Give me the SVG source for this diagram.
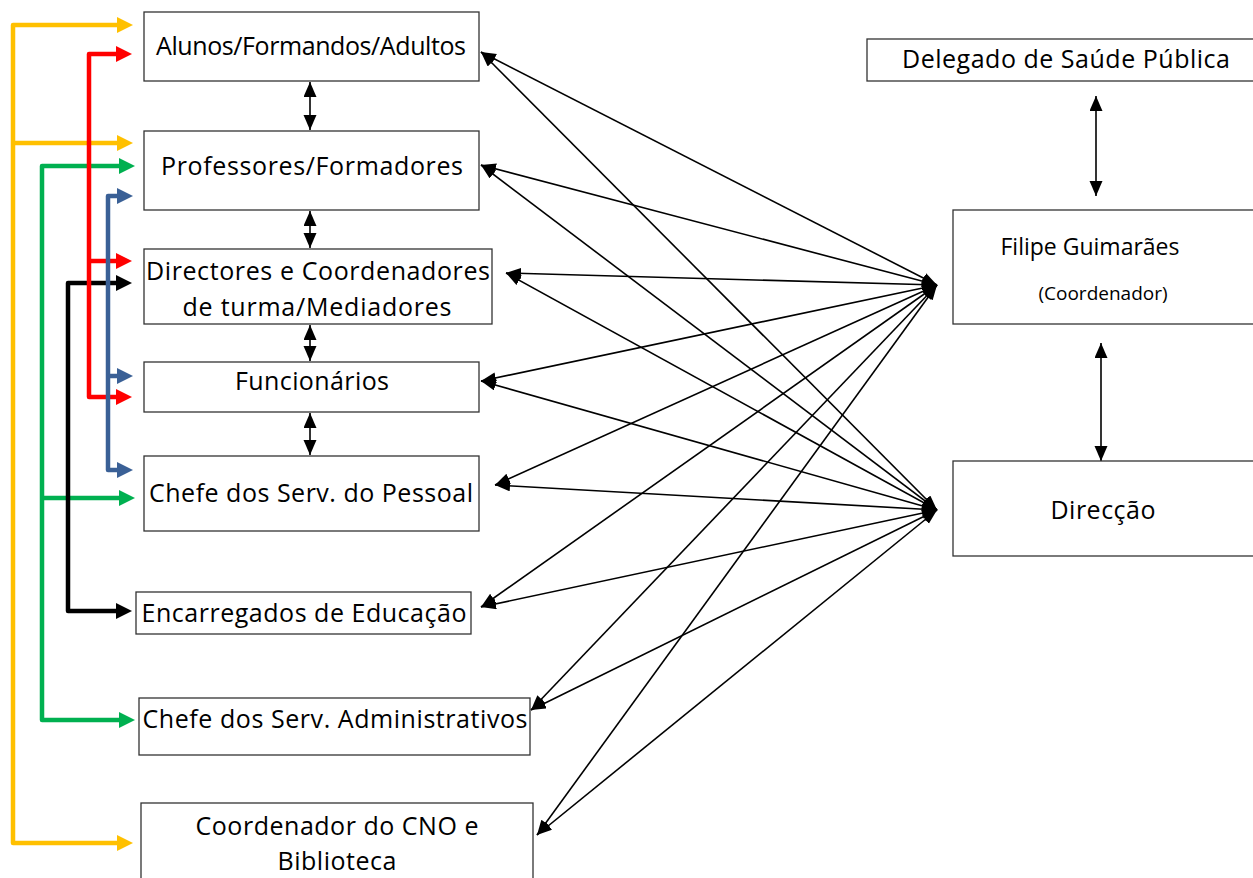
<svg xmlns="http://www.w3.org/2000/svg" width="1253" height="878" viewBox="0 0 1253 878">
<style>
.box{fill:#fff;stroke:#333;stroke-width:1.3}
.t{font-family:"Open Sans","Noto Sans",sans-serif;font-size:25px;fill:#000;text-anchor:middle}
.s{font-family:"Open Sans","Noto Sans",sans-serif;font-size:19px;fill:#000;text-anchor:middle}
.c{fill:none;stroke-width:4.5;stroke-linejoin:round}
.k{fill:none;stroke:#000;stroke-width:1.6;marker-start:url(#ah);marker-end:url(#ah)}
.v{fill:none;stroke:#000;stroke-width:1.6;marker-start:url(#av);marker-end:url(#av)}
</style>
<defs>
<marker id="ah" markerUnits="userSpaceOnUse" markerWidth="17" markerHeight="13" refX="15" refY="5.5" orient="auto-start-reverse"><path d="M0,0 L15,5.5 L0,11 z" fill="#000"/></marker>
<marker id="av" markerUnits="userSpaceOnUse" markerWidth="16" markerHeight="14" refX="15" refY="6.5" orient="auto-start-reverse"><path d="M0,0 L15,6.5 L0,13 z" fill="#000"/></marker>
<marker id="my" markerUnits="userSpaceOnUse" markerWidth="16" markerHeight="16" refX="4" refY="8" orient="auto-start-reverse"><path d="M0,0 L16,8 L0,16 z" fill="#FFC000"/></marker>
<marker id="mr" markerUnits="userSpaceOnUse" markerWidth="16" markerHeight="16" refX="4" refY="8" orient="auto-start-reverse"><path d="M0,0 L16,8 L0,16 z" fill="#FF0000"/></marker>
<marker id="mg" markerUnits="userSpaceOnUse" markerWidth="16" markerHeight="16" refX="4" refY="8" orient="auto-start-reverse"><path d="M0,0 L16,8 L0,16 z" fill="#00B050"/></marker>
<marker id="mb" markerUnits="userSpaceOnUse" markerWidth="16" markerHeight="16" refX="4" refY="8" orient="auto-start-reverse"><path d="M0,0 L16,8 L0,16 z" fill="#3A6096"/></marker>
<marker id="mk" markerUnits="userSpaceOnUse" markerWidth="16" markerHeight="16" refX="4" refY="8" orient="auto-start-reverse"><path d="M0,0 L16,8 L0,16 z" fill="#000"/></marker>
</defs>

<g id="connectors">
<g id="colored">
<path class="c" stroke="#FFC000" d="M121,25 H13 V843 H121" marker-start="url(#my)" marker-end="url(#my)"/>
<path class="c" stroke="#FFC000" d="M13,143 H121" marker-end="url(#my)"/>
<path class="c" stroke="#00B050" d="M123,166 H42 V720 H123" marker-start="url(#mg)" marker-end="url(#mg)"/>
<path class="c" stroke="#00B050" d="M42,498 H123" marker-end="url(#mg)"/>
<path class="c" stroke="#000" d="M120,283 H68 V611 H120" marker-start="url(#mk)" marker-end="url(#mk)"/>
<path class="c" stroke="#FF0000" d="M120,54 H89 V397 H120" marker-start="url(#mr)" marker-end="url(#mr)"/>
<path class="c" stroke="#FF0000" d="M89,261 H120" marker-end="url(#mr)"/>
<path class="c" stroke="#3A6096" d="M121,196 H108 V470 H121" marker-start="url(#mb)" marker-end="url(#mb)"/>
<path class="c" stroke="#3A6096" d="M108,376 H121" marker-end="url(#mb)"/>
</g>
<g id="vertical">
<line class="v" x1="310" y1="82" x2="310" y2="130"/>
<line class="v" x1="310" y1="211" x2="310" y2="248"/>
<line class="v" x1="310" y1="325" x2="310" y2="361"/>
<line class="v" x1="310" y1="413" x2="310" y2="455"/>
<line class="v" x1="1096" y1="96" x2="1096" y2="196"/>
<line class="v" x1="1101" y1="343" x2="1101" y2="461"/>
</g>
<g id="links">
<line class="k" x1="481" y1="52" x2="937" y2="285"/>
<line class="k" x1="481" y1="52" x2="937" y2="510"/>
<line class="k" x1="481" y1="165" x2="937" y2="285"/>
<line class="k" x1="481" y1="165" x2="937" y2="510"/>
<line class="k" x1="506" y1="273" x2="937" y2="285"/>
<line class="k" x1="506" y1="273" x2="937" y2="510"/>
<line class="k" x1="481" y1="381" x2="937" y2="285"/>
<line class="k" x1="481" y1="381" x2="937" y2="510"/>
<line class="k" x1="495" y1="485" x2="937" y2="285"/>
<line class="k" x1="495" y1="485" x2="937" y2="510"/>
<line class="k" x1="481" y1="607" x2="937" y2="285"/>
<line class="k" x1="481" y1="607" x2="937" y2="510"/>
<line class="k" x1="531" y1="710" x2="937" y2="285"/>
<line class="k" x1="531" y1="710" x2="937" y2="510"/>
<line class="k" x1="537" y1="835" x2="937" y2="285"/>
<line class="k" x1="537" y1="835" x2="937" y2="510"/>
</g>
</g>

<g id="n1"><rect class="box" x="144" y="12" width="335" height="69"/><text class="t" x="311" y="55" textLength="310">Alunos/Formandos/Adultos</text></g>
<g id="n2"><rect class="box" x="144" y="131" width="335" height="79"/><text class="t" x="312" y="175" textLength="302">Professores/Formadores</text></g>
<g id="n3"><rect class="box" x="144" y="249" width="348" height="75"/><text class="t" x="318" y="280" textLength="344">Directores e Coordenadores</text><text class="t" x="317" y="316" textLength="269">de turma/Mediadores</text></g>
<g id="n4"><rect class="box" x="144" y="362" width="335" height="50"/><text class="t" x="312" y="390" textLength="154">Funcionários</text></g>
<g id="n5"><rect class="box" x="144" y="456" width="335" height="75"/><text class="t" x="311" y="502" textLength="324">Chefe dos Serv. do Pessoal</text></g>
<g id="n6"><rect class="box" x="136" y="592" width="335" height="42"/><text class="t" x="304" y="622" textLength="325">Encarregados de Educação</text></g>
<g id="n7"><rect class="box" x="139" y="698" width="391" height="57"/><text class="t" x="335" y="728" textLength="385">Chefe dos Serv. Administrativos</text></g>
<g id="n8"><rect class="box" x="141" y="803" width="392" height="80"/><text class="t" x="337" y="835" textLength="283">Coordenador do CNO e</text><text class="t" x="337" y="870" textLength="119">Biblioteca</text></g>
<g id="n9"><rect class="box" x="867" y="39" width="390" height="42"/><text class="t" x="1066" y="68" textLength="328">Delegado de Saúde Pública</text></g>
<g id="n10"><rect class="box" x="953" y="210" width="304" height="114"/><text class="t" x="1090" y="255" style="font-size:23px">Filipe Guimarães</text><text class="s" x="1103" y="300">(Coordenador)</text></g>
<g id="n11"><rect class="box" x="953" y="461" width="304" height="95"/><text class="t" x="1103" y="519" textLength="105">Direcção</text></g>
</svg>
